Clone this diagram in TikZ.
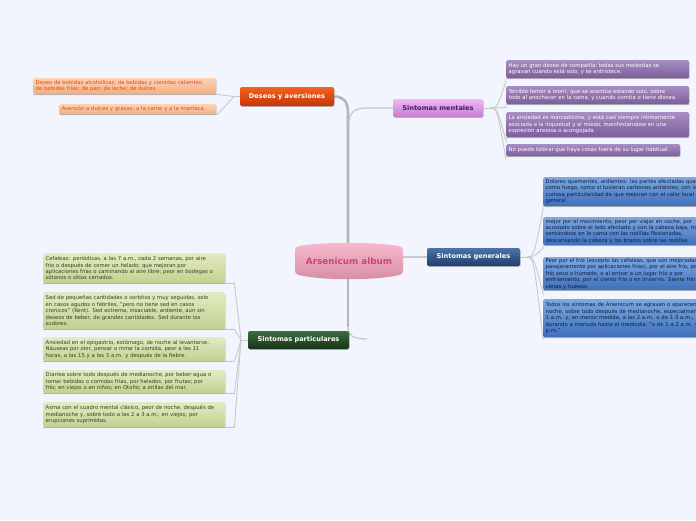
\documentclass[tikz,border=0pt]{standalone}
\usepackage{fontspec}
\setmainfont{DejaVu Sans}
\usetikzlibrary{shadows}
\pgfdeclarelayer{bgl}
\pgfsetlayers{bgl,main}
\definecolor{bg}{HTML}{F2F5FD}
\definecolor{trunkc}{HTML}{B6B6B6}
\definecolor{connc}{HTML}{C9C9CC}
\definecolor{ctrTop}{HTML}{F7BACD}
\definecolor{ctrBot}{HTML}{D68CA6}
\definecolor{ctrTxt}{HTML}{C8457A}
\definecolor{desTop}{HTML}{F4621F}
\definecolor{desBot}{HTML}{C63505}
\definecolor{desLTop}{HTML}{FCD3B4}
\definecolor{desLBot}{HTML}{F2AE82}
\definecolor{desLTxt}{HTML}{E04C14}
\definecolor{menTop}{HTML}{F2B8F5}
\definecolor{menBot}{HTML}{C47CCF}
\definecolor{menTxt}{HTML}{4A1C5A}
\definecolor{menLTop}{HTML}{A78DC3}
\definecolor{menLBot}{HTML}{7C5D9B}
\definecolor{genTop}{HTML}{4C72A8}
\definecolor{genBot}{HTML}{1F3F6E}
\definecolor{genLTop}{HTML}{7CA8E2}
\definecolor{genLBot}{HTML}{3E6FBA}
\definecolor{genLTxt}{HTML}{0E1E3C}
\definecolor{parTop}{HTML}{3D6C41}
\definecolor{parBot}{HTML}{163317}
\definecolor{parLTop}{HTML}{E2EBC2}
\definecolor{parLBot}{HTML}{C3D191}
\definecolor{parLTxt}{HTML}{35401C}
\tikzset{
  trunk/.style={draw=trunkc, line width=2.6pt},
  conn/.style={draw=connc, line width=0.9pt},
  branch/.style={rounded corners=2pt, minimum height=18pt, inner sep=0pt,
     font=\fontsize{6.6}{8}\selectfont\bfseries,
     drop shadow={shadow xshift=0.6pt, shadow yshift=-0.9pt, opacity=0.35, fill=black!70}},
  leaf/.style={anchor=north west, rounded corners=1.5pt, inner xsep=2.5pt, inner ysep=1pt,
     align=left, font=\fontsize{5.3}{6.4}\selectfont,
     drop shadow={shadow xshift=0.5pt, shadow yshift=-0.8pt, opacity=0.25, fill=black!60}},
  desL/.style={leaf, top color=desLTop, bottom color=desLBot, text=desLTxt},
  menL/.style={leaf, top color=menLTop, bottom color=menLBot, text=white},
  genL/.style={leaf, top color=genLTop, bottom color=genLBot, text=genLTxt},
  parL/.style={leaf, top color=parLTop, bottom color=parLBot, text=parLTxt},
}
\begin{document}
\begin{tikzpicture}[x=1pt,y=-1pt]
\useasboundingbox (0,0) rectangle (696,520);
\clip (0,0) rectangle (696,520);
\begin{pgfonlayer}{bgl}
\fill[bg] (0,0) rectangle (696,520);
\end{pgfonlayer}

% central node shape
\shade[top color=ctrTop, bottom color=ctrBot, rounded corners=3pt]
  (295,247) .. controls (320,241.7) and (378,241.7) .. (403,247)
  -- (403,274) .. controls (378,280.7) and (320,280.7) .. (295,274) -- cycle;
\node[inner sep=0pt, minimum width=108pt, minimum height=34pt,
      font=\fontsize{8.8}{10}\selectfont\bfseries, text=ctrTxt] (c) at (349,261) {Arsenicum album};

% branch nodes
\node[branch, top color=desTop, bottom color=desBot, text=white, minimum width=94pt, minimum height=19pt] (d) at (287,96.5) {Deseos y aversiones};
\node[branch, top color=menTop, bottom color=menBot, text=menTxt, minimum width=90pt] (m) at (438,108) {Sintomas mentales};
\node[branch, top color=genTop, bottom color=genBot, text=white, minimum width=93pt] (g) at (473.5,257) {Sintomas generales};
\node[branch, top color=parTop, bottom color=parBot, text=white, minimum width=101pt] (p) at (298.5,340) {Sintomas particulares};

% Deseos leaves
\node[desL, minimum width=183pt, minimum height=16pt, text width=178pt] (d1) at (33,78)
  {Deseo de bebidas alcohólicas; de bebidas y comidas calientes;\\de bebidas frías; de pan; de leche; de dulces.};
\node[desL, minimum width=157pt, minimum height=10pt, text width=152pt] (d2) at (59,104)
  {Aversión a dulces y grasas; a la carne y a la manteca.};

% Mentales leaves
\node[menL, minimum width=183pt, minimum height=18pt, text width=178pt] (m1) at (506,60)
  {Hay un gran deseo de compañía; todas sus molestias se\\agravan cuando está solo, y se entristece.};
\node[menL, minimum width=183pt, minimum height=18pt, text width=178pt] (m2) at (506,86)
  {Terrible temor a morir, que se acentúa estando solo, sobre\\todo al anochecer en la cama, y cuando vomita o tiene disnea.};
\node[menL, minimum width=183pt, minimum height=25pt, text width=178pt] (m3) at (506,112)
  {La ansiedad es marcadísima, y está casi siempre íntimamente\\asociada a la inquietud y al miedo, manifestándose en una\\expresión ansiosa o acongojada};
\node[menL, minimum width=174pt, minimum height=12pt, text width=169pt] (m4) at (506,144)
  {No puede tolerar que haya cosas fuera de su lugar habitual.};

% Generales leaves
\node[genL, minimum width=200pt, minimum height=29pt, text width=195pt] (g1) at (543,177)
  {Dolores quemantes, ardientes: las partes afectadas queman\\como fuego, como si tuvieran carbones ardientes; con la\\curiosa particularidad de que mejoran con el calor local y\\general};
\node[genL, minimum width=200pt, minimum height=28pt, text width=195pt] (g2) at (543,217)
  {mejor por el movimiento; peor por viajar en coche, por\\acostado sobre el lado afectado y con la cabeza baja; mejor\\sentándose en la cama con las rodillas flexionadas,\\descansando la cabeza y los brazos sobre las rodillas.};
\node[genL, minimum width=200pt, minimum height=32pt, text width=195pt] (g3) at (543,257)
  {Peor por el frío (excepto las cefaleas, que son mejoradas\\pasajeramente por aplicaciones frías), por el aire frío, por\\frío seco o húmedo, o al entrar a un lugar frío o por\\enfriamiento, por el viento frío o en Invierno. Siente frío en\\venas y huesos.};
\node[genL, minimum width=200pt, minimum height=38pt, text width=195pt] (g4) at (543,299)
  {Todos los síntomas de Arsenicum se agravan o aparecen de\\noche, sobre todo después de medianoche, especialmente de\\1 a.m. y, en menor medida, a las 2 a.m. o de 1-3 a.m.,\\durando a menudo hasta el mediodía; "o de 1 a 2 a.m. y 1 a 2\\p.m."};

% Particulares leaves
\node[parL, minimum width=182pt, minimum height=30pt, text width=177pt] (p1) at (43,253)
  {Cefaleas: periódicas, a las 7 a.m., cada 2 semanas, por aire\\frío o después de comer un helado; que mejoran por\\aplicaciones frías o caminando al aire libre; peor en bodegas o\\sótanos o sitios cerrados.};
\node[parL, minimum width=182pt, minimum height=37pt, text width=177pt] (p2) at (43,292)
  {Sed de pequeñas cantidades o sorbitos y muy seguidas, solo\\en casos agudos o febriles, "pero no tiene sed en casos\\cronicos" (Kent). Sed extrema, insaciable, ardiente, aún sin\\deseos de beber, de grandes cantidades. Sed durante los\\sudores.};
\node[parL, minimum width=182pt, minimum height=24pt, text width=177pt] (p3) at (43,337)
  {Ansiedad en el epigastrio, estómago, de noche al levantarse.\\Náuseas por oler, pensar o mirar la comida, peor a las 11\\horas, a las 15 y a las 3 a.m. y después de la fiebre.};
\node[parL, minimum width=182pt, minimum height=23pt, text width=177pt] (p4) at (43,370)
  {Diarrea sobre todo después de medianoche, por beber agua o\\tomar bebidas o comidas frías, por helados, por frutas; por\\frío; en viejos o en niños; en Otoño; a orillas del mar.};
\node[parL, minimum width=182pt, minimum height=25pt, text width=177pt] (p5) at (43,402)
  {Asma con el cuadro mental clásico, peor de noche, después de\\medianoche y, sobre todo a las 2 a 3 a.m.; en viejos; por\\erupciones suprimidas.};

% free-end coordinates
\coordinate (tTop) at (348,113);
\coordinate (tBot) at (348,327);
\coordinate (pEnd) at (367,339);
\coordinate (mJoin) at (349,124);
\coordinate (mBend) at (367,108);
\coordinate (dFan) at (234,96.5);
\coordinate (mFan) at (490,108);
\coordinate (gFan) at (527,257);
\coordinate (pFan) at (241,340);

\begin{pgfonlayer}{bgl}
\draw[trunk] ([xshift=-1pt]c.north) -- (tTop) .. controls (348,101) and (343,96.5) .. (d.east);
\draw[trunk] ([xshift=-1pt]c.south) -- (tBot);
\draw[conn, line width=1.3pt] (tBot) .. controls (348,336) and (354,339) .. (pEnd);
\draw[conn, line width=1.2pt] (mJoin) .. controls (349,112) and (355,108) .. (mBend) -- (m.west);
\draw[conn, line width=1.2pt] (c.east |- g.west) -- (g.west);
% deseos fan
\draw[conn] (d.west) -- (dFan) -- (d1.south east) -- (d1.south west);
\draw[conn] (dFan) -- ([xshift=1pt]d2.south east) -- (d2.south west);
% mentales fan
\draw[conn] (m.east) -- (mFan);
\foreach \n in {m1,m2,m3,m4}{
  \draw[conn] (mFan) .. controls (497,108) and (497,108) .. ([yshift=-3pt]\n.south west) -- (\n.south west) -- (\n.south east);
}
% generales fan
\draw[conn] (g.east) -- (gFan);
\foreach \n in {g1,g2,g3,g4}{
  \draw[conn] (gFan) .. controls (533,257) and (534,257) .. ([yshift=-3pt]\n.south west) -- (\n.south west) -- (\n.south east);
}
% particulares fan
\draw[conn] (p.west) -- (pFan);
\foreach \n in {p1,p2,p3,p4,p5}{
  \draw[conn] (pFan) -- ([xshift=9pt]\n.south east) -- (\n.south west);
}
\end{pgfonlayer}
\end{tikzpicture}
\end{document}
